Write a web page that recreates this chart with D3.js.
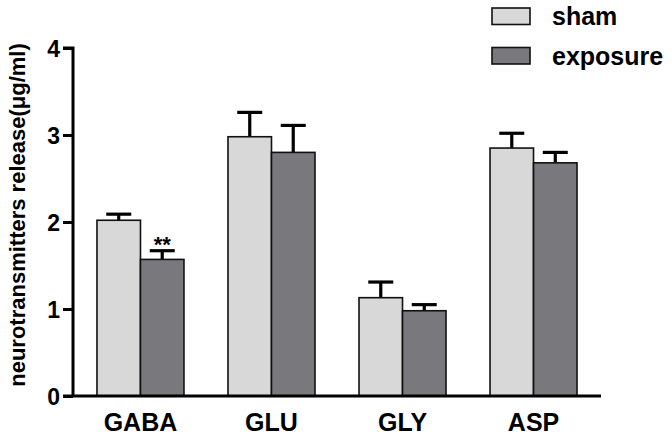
<!DOCTYPE html>
<html><head><meta charset="utf-8">
<script src="https://cdn.jsdelivr.net/npm/d3@7"></script>
<style>body{margin:0;background:#fff}svg{display:block}text{font-family:"Liberation Sans",Arial,sans-serif;font-weight:bold;fill:#000}</style>
</head><body><svg id="c" width="672" height="438"></svg>
<script>
const categories = ["GABA","GLU","GLY","ASP"];
const series = ["sham","exposure"];
const shamMean = [2.02, 2.98, 1.13, 2.85];
const shamSEM  = [0.07, 0.28, 0.18, 0.17];
const expMean  = [1.57, 2.80, 0.98, 2.68];
const expSEM   = [0.10, 0.31, 0.07, 0.12];
const yTicks = [0,1,2,3,4];
const colors = ["#d8d8d8","#79797d"];
const marks = ["**", "", "", ""];

const svg = d3.select("#c");
const x0 = d3.scaleBand().domain(categories).range([73,601]).paddingInner(0.336).paddingOuter(0.183);
const x1 = d3.scaleBand().domain(series).range([0,x0.bandwidth()]);
const y = d3.scaleLinear().domain([0,4]).range([396,48]);

const data = categories.map((c,i)=>({c, vals:[{s:"sham",m:shamMean[i],e:shamSEM[i]},{s:"exposure",m:expMean[i],e:expSEM[i]}], mark:marks[i]}));

const g = svg.append("g").selectAll("g").data(data).join("g").attr("transform",d=>`translate(${x0(d.c)},0)`);
// error bars
g.selectAll("line.v").data(d=>d.vals).join("line").attr("class","v")
  .attr("x1",d=>x1(d.s)+x1.bandwidth()/2).attr("x2",d=>x1(d.s)+x1.bandwidth()/2)
  .attr("y1",d=>y(d.m)).attr("y2",d=>y(d.m+d.e)).attr("stroke","#000").attr("stroke-width",3.2);
g.selectAll("line.cap").data(d=>d.vals).join("line").attr("class","cap")
  .attr("x1",d=>x1(d.s)+x1.bandwidth()/2-12.5).attr("x2",d=>x1(d.s)+x1.bandwidth()/2+12.5)
  .attr("y1",d=>y(d.m+d.e)).attr("y2",d=>y(d.m+d.e)).attr("stroke","#000").attr("stroke-width",3.2);
g.selectAll("rect").data(d=>d.vals).join("rect")
  .attr("x",d=>x1(d.s)).attr("width",x1.bandwidth())
  .attr("y",d=>y(d.m)).attr("height",d=>y(0)-y(d.m))
  .attr("fill",(d,i)=>colors[i]).attr("stroke","#111").attr("stroke-width",1.6);
g.append("text").attr("x",x1("exposure")+x1.bandwidth()/2).attr("y",d=>y(d.vals[1].m+d.vals[1].e)+1)
  .attr("text-anchor","middle").attr("font-size",22).text(d=>d.mark);

// y axis
const ya = svg.append("g").attr("transform","translate(73,0)")
  .call(d3.axisLeft(y).tickValues(yTicks).tickFormat(d3.format("d")).tickSize(10).tickPadding(3));
ya.select(".domain").attr("stroke-width",3).attr("d","M-10,48H0V396");
ya.selectAll(".tick line").attr("stroke-width",3);
ya.selectAll(".tick text").attr("font-size",23).attr("font-family","Liberation Sans, Arial, sans-serif").attr("font-weight","bold").attr("dy","0.36em");
// x axis
const xa = svg.append("g").attr("transform","translate(0,396)")
  .call(d3.axisBottom(x0).tickSize(0).tickPadding(17));
xa.select(".domain").attr("stroke-width",3).attr("d","M63,0H601");
xa.selectAll(".tick text").attr("font-size",25).attr("font-family","Liberation Sans, Arial, sans-serif").attr("font-weight","bold");

// y label
svg.append("text").attr("transform","translate(25,215) rotate(-90)").attr("text-anchor","middle")
  .attr("font-size",22).text("neurotransmitters release(μg/ml)");

// legend
const lg = svg.append("g").selectAll("g").data(series).join("g").attr("transform",(d,i)=>`translate(492,${8+i*39.5})`);
lg.append("rect").attr("width",38).attr("height",16.5).attr("fill",(d,i)=>colors[i]).attr("stroke","#111").attr("stroke-width",1.6);
lg.append("text").attr("x",60).attr("y",17).attr("font-size",25).text(d=>d);
</script></body></html>
